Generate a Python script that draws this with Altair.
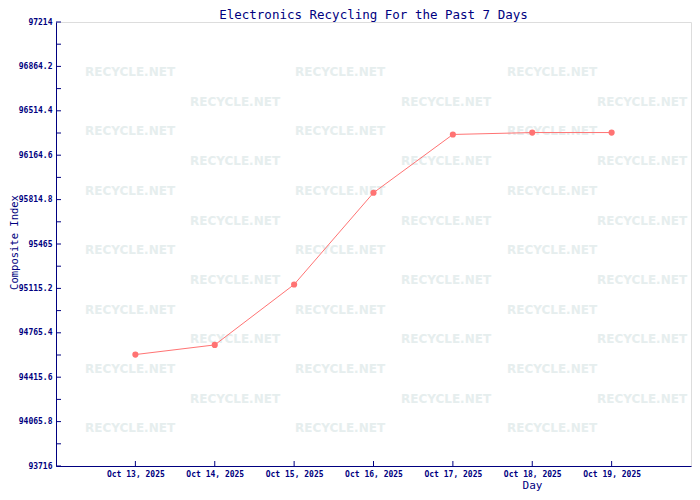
import altair as alt
import pandas as pd

# ---- data ----
days = ["Oct 13, 2025", "Oct 14, 2025", "Oct 15, 2025", "Oct 16, 2025",
        "Oct 17, 2025", "Oct 18, 2025", "Oct 19, 2025"]
values = [94594, 94670, 95146, 95869, 96328, 96343, 96343]
y_min, y_max = 93716, 97214
y_step = 349.8
title_text = ["Electronics Recycling For the Past 7 Days"]

NAVY = "#000080"
LINE = "#ff7373"
MONO = "DejaVu Sans Mono"

W, H = 635, 444

tick_vals = [round(y_min + y_step / 2 * k, 2) for k in range(21)]

df = pd.DataFrame({"day": days, "value": values})
yticks_df = pd.DataFrame({"v": tick_vals})
title_df = pd.DataFrame({"t": title_text})

# watermark grid (decoration, pixel positions inside plot area)
wm = []
for r in range(13):
    py = 50 + 29.7 * r
    xs = [74, 284, 496] if r % 2 == 0 else [179, 390, 586]
    for px in xs:
        wm.append({"px": px, "py": py, "t": "RECYCLE.NET"})
wm_df = pd.DataFrame(wm)

xscale = alt.Scale(type="point", padding=1, domain=days)
yscale = alt.Scale(domain=[y_min, y_max], nice=False, zero=False)

watermark = alt.Chart(wm_df).mark_text(
    font="DejaVu Sans", fontWeight="bold", fontSize=12, color="#e6eeee"
).encode(
    x=alt.X("px:Q", scale=None, axis=None),
    y=alt.Y("py:Q", scale=None, axis=None),
    text="t:N",
)

ytick_rules = alt.Chart(yticks_df).mark_rule(color=NAVY, strokeWidth=1).encode(
    y=alt.Y("v:Q", scale=yscale, axis=None),
    x=alt.value(0),
    x2=alt.value(5),
)

xtick_rules = alt.Chart(df).mark_rule(color=NAVY, strokeWidth=1).encode(
    x=alt.X("day:O", scale=xscale, axis=None),
    y=alt.value(H - 5),
    y2=alt.value(H),
)

title_mark = alt.Chart(title_df).mark_text(
    font=MONO, fontSize=12.5, color=NAVY, align="center", baseline="middle"
).encode(
    text="t:N",
    x=alt.value(W / 2),
    y=alt.value(-7),
)

label_expr = ("abs((datum.value - 93716) / 349.8 - round((datum.value - 93716) / 349.8)) < 0.01"
              " ? format(datum.value, '.1~f') : ''")

line = alt.Chart(df).mark_line(
    color=LINE, strokeWidth=1,
    point=alt.OverlayMarkDef(filled=True, shape="circle", size=38, color=LINE, opacity=1),
).encode(
    x=alt.X("day:O", scale=xscale, sort=days, axis=alt.Axis(
        title="Day", labelAngle=0, ticks=False, grid=False,
        labelFont=MONO, labelFontWeight="bold", labelFontSize=8, labelColor=NAVY,
        labelPadding=4, domainColor=NAVY, domainWidth=1,
        titleFont=MONO, titleFontWeight="normal", titleFontSize=11, titleColor=NAVY,
        titleX=476, titleY=19, titleAlign="center", titleBaseline="middle",
    )),
    y=alt.Y("value:Q", scale=yscale, axis=alt.Axis(
        title="Composite Index", values=tick_vals, labelExpr=label_expr,
        ticks=False, grid=False,
        labelFont=MONO, labelFontWeight="bold", labelFontSize=8, labelColor=NAVY,
        labelPadding=4, domainColor=NAVY, domainWidth=1,
        titleFont=MONO, titleFontWeight="normal", titleFontSize=10.5, titleColor=NAVY,
        titleX=-42, titleY=H / 2 - 2, titleAngle=-90, titleAlign="center", titleBaseline="middle",
    )),
)

chart = alt.layer(watermark, ytick_rules, xtick_rules, line, title_mark).resolve_scale(
    x="independent", y="independent"
).properties(
    width=W,
    height=H,
    autosize="none",
    padding={"left": 48, "top": 14, "right": 1, "bottom": 26},
).configure_view(stroke=NAVY, strokeWidth=1).configure(background="white")

chart.save("out.html", embed_options={"renderer": "svg", "actions": False})
